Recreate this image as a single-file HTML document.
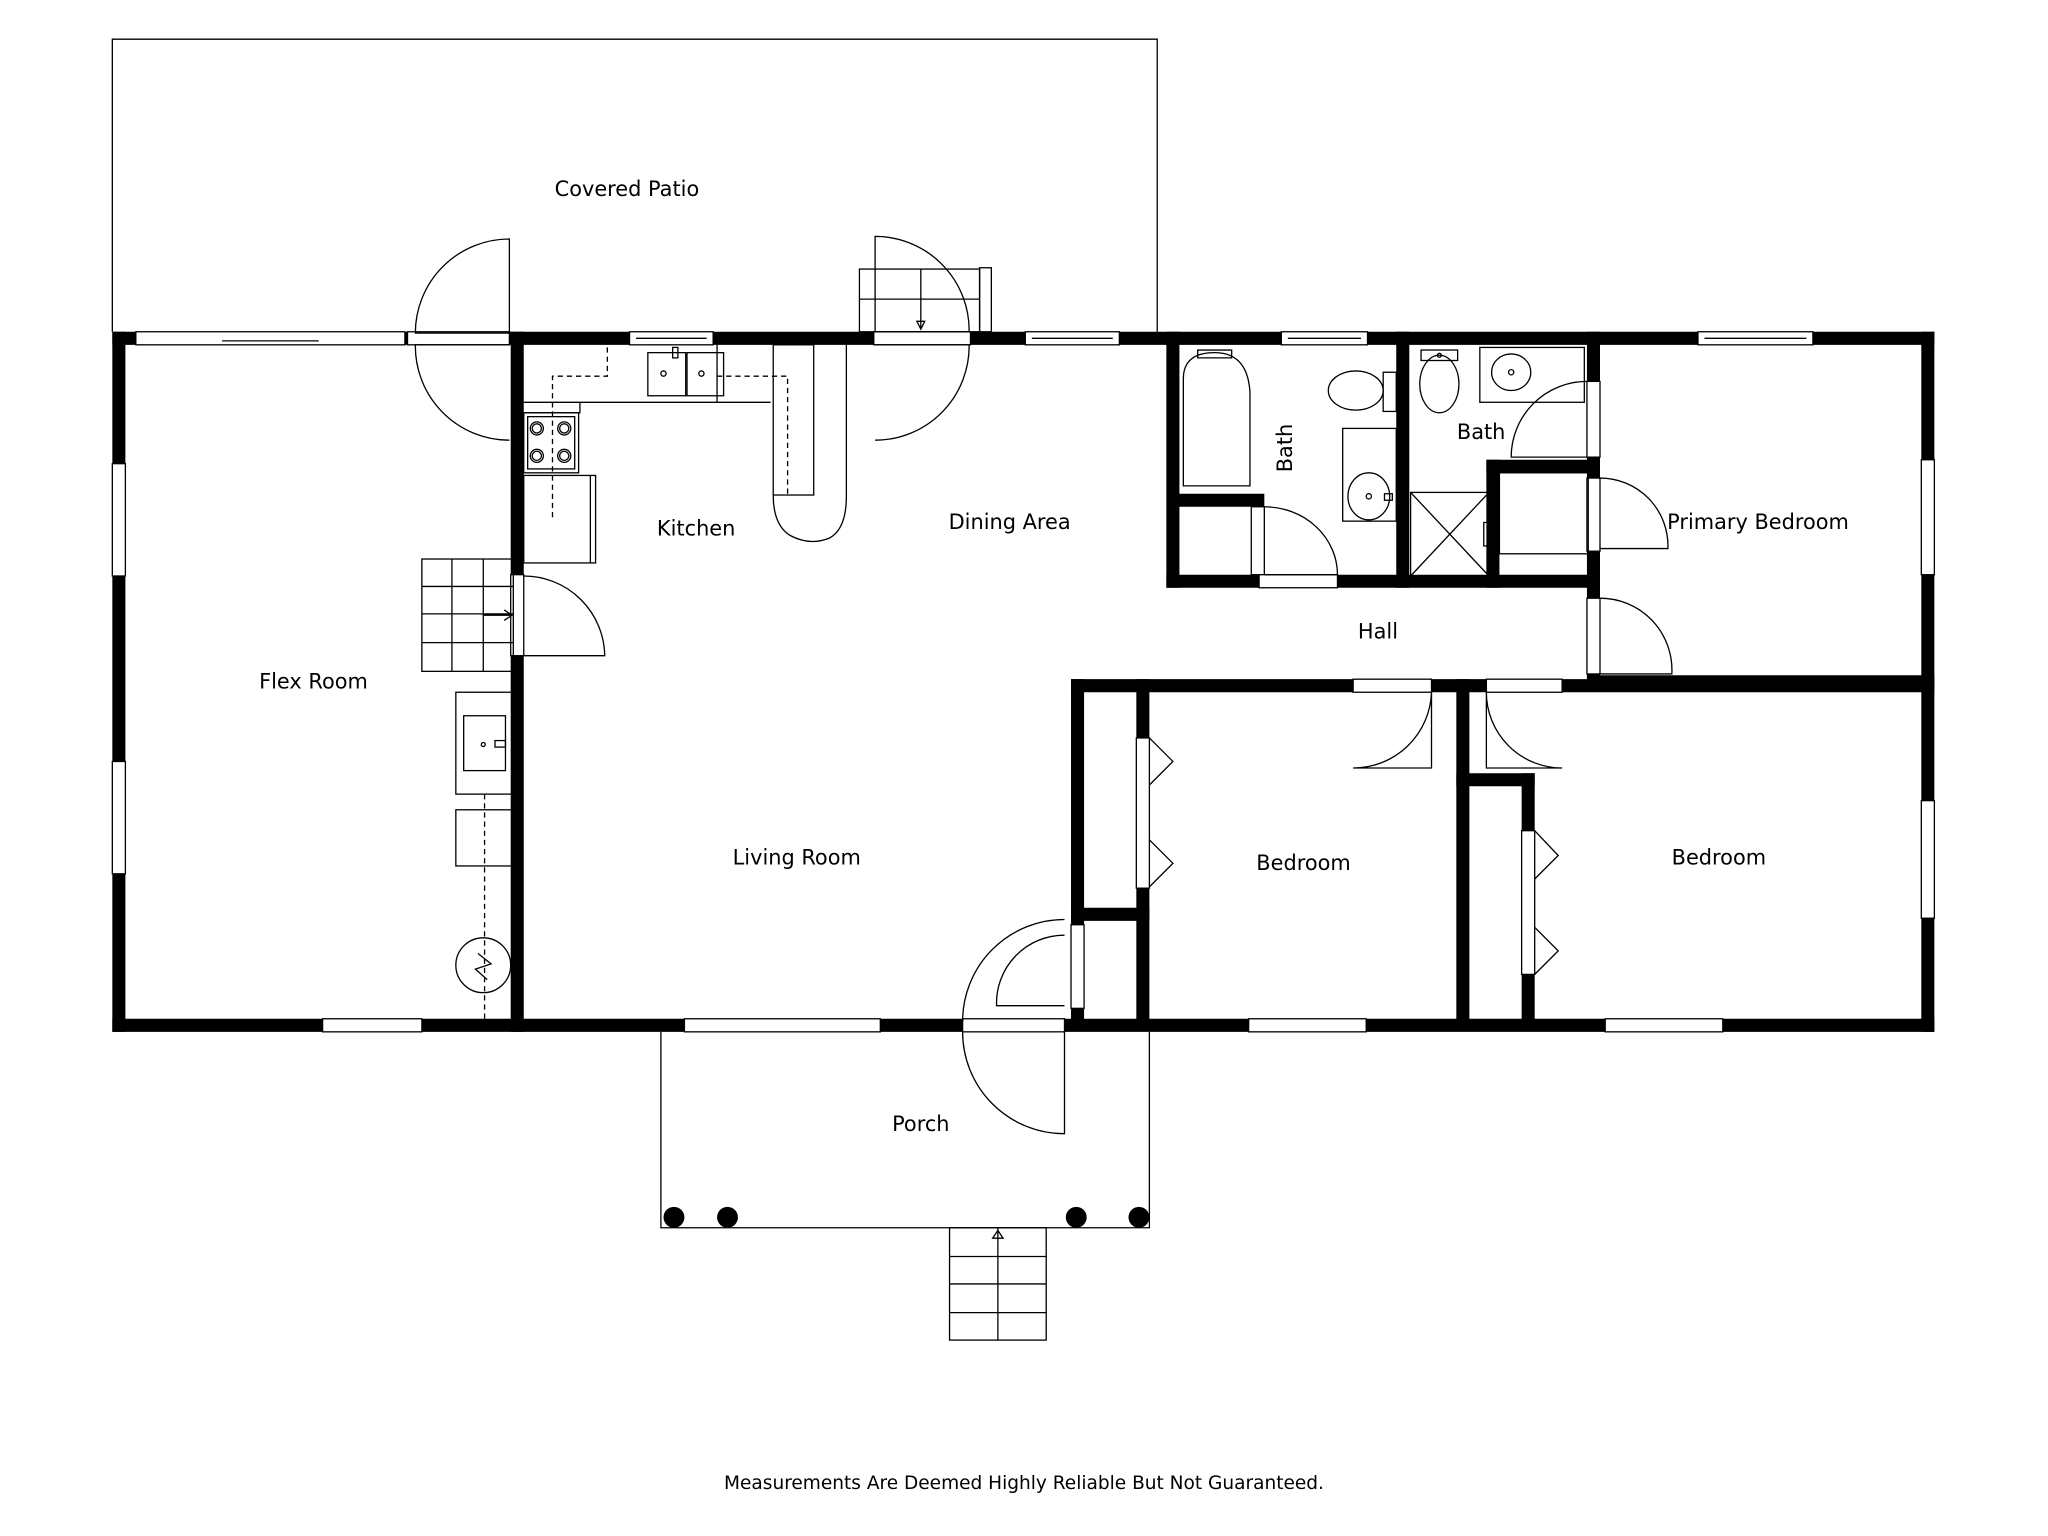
<!DOCTYPE html>
<html><head><meta charset="utf-8"><style>
html,body{margin:0;padding:0;background:#fff;}
svg{display:block;}
text{font-family:"DejaVu Sans","Liberation Sans",sans-serif;font-size:16px;fill:#000;}
</style></head><body>
<svg width="2048" height="1536" viewBox="0 0 1568 1176" xmlns="http://www.w3.org/2000/svg">
<g fill="none" stroke="#000" stroke-width="1">
<polyline points="86,254 86,30 886,30 886,254"/>
<polyline points="506,790 506,940 880,940 880,790"/>
</g>
<g stroke="#000" stroke-width="10" fill="none" stroke-linecap="square">
<line x1="91" y1="259" x2="1476" y2="259"/>
<line x1="91" y1="785" x2="1476" y2="785"/>
<line x1="91" y1="259" x2="91" y2="785"/>
<line x1="1476" y1="259" x2="1476" y2="785"/>
<line x1="396" y1="259" x2="396" y2="785"/>
<line x1="898" y1="259" x2="898" y2="445"/>
<line x1="898" y1="445" x2="1220" y2="445"/>
<line x1="1074" y1="259" x2="1074" y2="445"/>
<line x1="1220" y1="259" x2="1220" y2="522"/>
<line x1="1220" y1="522" x2="1476" y2="522"/>
<line x1="825" y1="525" x2="1476" y2="525"/>
<line x1="825" y1="525" x2="825" y2="780"/>
<line x1="875" y1="525" x2="875" y2="780"/>
<line x1="825" y1="700" x2="875" y2="700"/>
<line x1="1120" y1="525" x2="1120" y2="780"/>
<line x1="1170" y1="597" x2="1170" y2="780"/>
<line x1="1120" y1="597" x2="1170" y2="597"/>
<line x1="903" y1="383" x2="963" y2="383"/>
<line x1="1143" y1="357" x2="1220" y2="357"/>
<line x1="1143" y1="357" x2="1143" y2="445"/>
</g>
<g fill="#fff" stroke="#000" stroke-width="1">
<rect x="104" y="254" width="206" height="10"/>
<rect x="312" y="254" width="78" height="10"/>
<rect x="482" y="254" width="64" height="10"/>
<rect x="669" y="254" width="74" height="10"/>
<rect x="785" y="254" width="72" height="10"/>
<rect x="981" y="254" width="66" height="10"/>
<rect x="1300" y="254" width="88" height="10"/>
<rect x="86" y="355" width="10" height="86"/>
<rect x="86" y="583" width="10" height="86"/>
<rect x="1471" y="352" width="10" height="88"/>
<rect x="1471" y="613" width="10" height="90"/>
<rect x="247" y="780" width="76" height="10"/>
<rect x="524" y="780" width="150" height="10"/>
<rect x="737" y="780" width="78" height="10"/>
<rect x="956" y="780" width="90" height="10"/>
<rect x="1229" y="780" width="90" height="10"/>
<rect x="391" y="440" width="10" height="62"/>
<rect x="1215" y="292" width="10" height="58"/>
<rect x="1215" y="366" width="10" height="56"/>
<rect x="1215" y="458" width="10" height="58"/>
<rect x="1036" y="520" width="60" height="10"/>
<rect x="1138" y="520" width="58" height="10"/>
<rect x="820" y="708" width="10" height="64"/>
<rect x="958" y="388" width="10" height="52"/>
<rect x="964" y="440" width="60" height="10"/>
<rect x="870" y="565" width="10" height="115"/>
<rect x="1165" y="636" width="10" height="110"/>
</g>
<g fill="none" stroke="#000" stroke-width="1">
<line x1="487" y1="259" x2="541" y2="259"/><line x1="790" y1="259" x2="852" y2="259"/>
<line x1="986" y1="259" x2="1042" y2="259"/><line x1="1305" y1="259" x2="1383" y2="259"/>
<line x1="170" y1="261" x2="244" y2="261"/>
<path d="M390 183 A72 72 0 0 0 318 255 L390 255 Z"/>
<path d="M390 337 A72 72 0 0 1 318 264 L390 264"/>
<path d="M670 181 A72 72 0 0 1 742 254 L670 254 Z"/>
<path d="M670 337 A72 72 0 0 0 742 264 L670 264"/>
<path d="M401 441 A62 62 0 0 1 463 502 L401 502"/>
<path d="M1215 292 A58 58 0 0 0 1157 350 L1215 350"/>
<path d="M1225 366 A52 52 0 0 1 1277 420 L1225 420"/>
<path d="M1225 458 A55 55 0 0 1 1280 516 L1225 516"/>
<path d="M1096 530 A60 60 0 0 1 1036 588 L1096 588 Z"/>
<path d="M1138 530 A58 58 0 0 0 1196 588 L1138 588 Z"/>
<path d="M815 704 A78 78 0 0 0 737 782 M815 716 A52 52 0 0 0 763 770 L815 770"/>
<path d="M737 790 A78 78 0 0 0 815 868 L815 790"/>
<path d="M968 388 A56 52 0 0 1 1024 440 L968 440"/>
<polyline points="880,565 898,583 880,601"/><polyline points="880,643 898,661 880,679"/>
<polyline points="1175,636 1193,655 1175,673"/><polyline points="1175,710 1193,728 1175,746"/>
<rect x="658" y="206" width="92" height="48"/><line x1="658" y1="229" x2="750" y2="229"/>
<line x1="705" y1="206" x2="705" y2="252"/><rect x="750" y="205" width="9" height="49"/>
<polygon points="702,246 708,246 705,252"/>
<rect x="323" y="428" width="70" height="86"/><line x1="323" y1="449" x2="393" y2="449"/>
<line x1="323" y1="470" x2="393" y2="470"/><line x1="323" y1="492" x2="393" y2="492"/>
<line x1="346" y1="428" x2="346" y2="514"/><line x1="370" y1="428" x2="370" y2="514"/>
<line x1="370" y1="471" x2="392" y2="471"/><polyline points="386,467 392,471 386,475"/>
<rect x="727" y="940" width="74" height="86"/><line x1="727" y1="962" x2="801" y2="962"/>
<line x1="727" y1="983" x2="801" y2="983"/><line x1="727" y1="1005" x2="801" y2="1005"/>
<line x1="764" y1="940" x2="764" y2="1026"/><polygon points="760,948 768,948 764,942"/>
<rect x="349" y="530" width="43" height="78"/><rect x="355" y="548" width="32" height="42"/>
<circle cx="370" cy="570" r="1.5"/><rect x="379" y="567" width="8" height="5"/>
<rect x="349" y="620" width="43" height="43"/>
<line x1="371" y1="608" x2="371" y2="780" stroke-dasharray="4,3"/>
<circle cx="370" cy="739" r="21"/><polyline points="366,730 376,738 364,742 373,750"/>
<polyline points="401,308 444,308 444,316 401,316"/>
<line x1="444" y1="308" x2="590" y2="308"/>
<rect x="401" y="316" width="42" height="46"/>
<rect x="404" y="319" width="36" height="40"/>
<circle cx="411" cy="328" r="5"/><circle cx="432" cy="328" r="5"/><circle cx="411" cy="349" r="5"/><circle cx="432" cy="349" r="5"/>
<circle cx="411" cy="328" r="3.5"/><circle cx="432" cy="328" r="3.5"/><circle cx="411" cy="349" r="3.5"/><circle cx="432" cy="349" r="3.5"/>
<rect x="401" y="364" width="55" height="67"/><line x1="452" y1="364" x2="452" y2="431"/>
<rect x="496" y="270" width="29" height="33"/><rect x="526" y="270" width="28" height="33"/>
<rect x="515" y="266" width="4" height="8"/>
<circle cx="508" cy="286" r="2"/><circle cx="537" cy="286" r="2"/>
<polyline points="423,396 423,288 465,288 465,266" stroke-dasharray="4,3"/>
<polyline points="549,288 603,288 603,380" stroke-dasharray="4,3"/>
<line x1="549" y1="264" x2="549" y2="308"/>
<rect x="592" y="264" width="31" height="115"/>
<path d="M592 379 Q592 402 605 410 Q620 418 635 412 Q648 405 648 380 L648 264"/>
<path d="M906 290 Q906 270 930 270 Q955 270 957 300 L957 372 L906 372 Z"/>
<path d="M917 268 h26 v6 h-26 z"/>
<rect x="1028" y="328" width="41" height="71"/>
<ellipse cx="1048" cy="380" rx="16" ry="18"/><circle cx="1048" cy="380" r="2"/>
<rect x="1060" y="378" width="6" height="5"/>
<rect x="1059" y="285" width="10" height="30"/>
<ellipse cx="1038" cy="299" rx="21" ry="15"/>
<rect x="1088" y="268" width="28" height="8"/>
<ellipse cx="1102" cy="294" rx="15" ry="22"/>
<circle cx="1102" cy="272" r="1.5"/>
<rect x="1133" y="266" width="80" height="42"/>
<ellipse cx="1157" cy="285" rx="15" ry="14"/><circle cx="1157" cy="285" r="2"/>
<rect x="1080" y="377" width="60" height="64"/>
<line x1="1080" y1="377" x2="1140" y2="441"/><line x1="1140" y1="377" x2="1080" y2="441"/>
<rect x="1136" y="400" width="5" height="18"/>
<rect x="1148" y="362" width="68" height="62"/>
</g>
<g fill="#000">
<circle cx="516" cy="932" r="8"/><circle cx="557" cy="932" r="8"/>
<circle cx="824" cy="932" r="8"/><circle cx="872" cy="932" r="8"/>
</g>
<text x="480" y="150" text-anchor="middle">Covered Patio</text>
<text x="533" y="410" text-anchor="middle">Kitchen</text>
<text x="773" y="405" text-anchor="middle">Dining Area</text>
<text x="240" y="527" text-anchor="middle">Flex Room</text>
<text x="610" y="662" text-anchor="middle">Living Room</text>
<text x="1055" y="489" text-anchor="middle">Hall</text>
<text x="1134" y="336" text-anchor="middle">Bath</text>
<text x="1346" y="405" text-anchor="middle">Primary Bedroom</text>
<text x="998" y="666" text-anchor="middle">Bedroom</text>
<text x="1316" y="662" text-anchor="middle">Bedroom</text>
<text x="705" y="866" text-anchor="middle">Porch</text>
<text transform="translate(989,343) rotate(-90)" text-anchor="middle">Bath</text>
<text x="784" y="1140" text-anchor="middle" style="font-size:14.2px">Measurements Are Deemed Highly Reliable But Not Guaranteed.</text>
</svg>
</body></html>
